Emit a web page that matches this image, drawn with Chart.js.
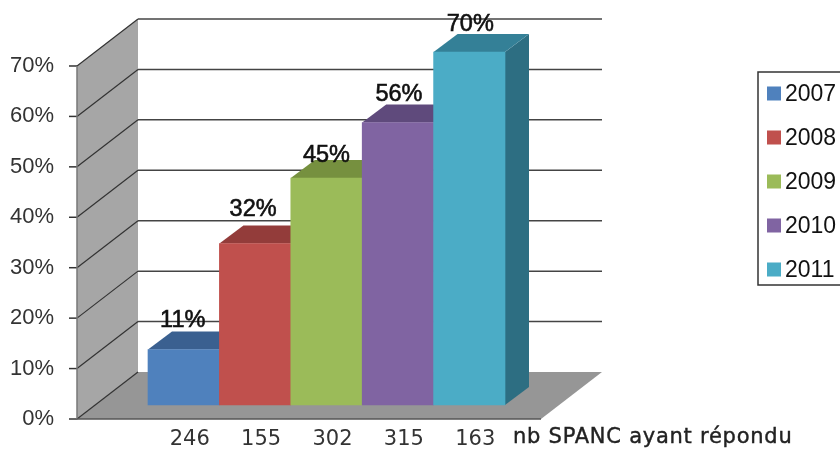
<!DOCTYPE html>
<html>
<head>
<meta charset="utf-8">
<title>SPANC</title>
<script src="https://cdn.jsdelivr.net/npm/chart.js@4/dist/chart.umd.min.js"></script>
<style>
  html, body { margin: 0; background: #fff; }
  canvas { display: block; }
</style>
</head>
<body>
<canvas id="mycanvas" width="840" height="450"></canvas>
<script>
var years = ['2007', '2008', '2009', '2010', '2011'];
var percents = [11, 32, 45, 56, 70];
var respondents = ['246', '155', '302', '315', '163'];
var percentTicks = [0, 10, 20, 30, 40, 50, 60, 70];
var axisTitle = 'nb SPANC ayant répondu';

var frontColors = ['#4f81bd', '#c0504d', '#9bbb59', '#8064a2', '#4bacc6'];
var topColors = ['#3a6090', '#933c3a', '#76903f', '#5f4a7c', '#348097'];
var sideColors = ['#325379', '#7d3331', '#647a36', '#513f69', '#2d6e82'];

// fake 3D: wall depth and bar depth in pixels
var wallDx = 61, wallDy = 47;
var barDx = 24, barDy = 18;
var unit = 5.043;

// value labels were placed by hand, not all at the same height
var labelLift = [29, 34, 23, 28, 27];
var labelShift = [-1, -2, 0, 1, 1];

function poly(ctx, pts, fill) {
    ctx.beginPath();
    ctx.moveTo(pts[0][0], pts[0][1]);
    for (var i = 1; i < pts.length; i++) ctx.lineTo(pts[i][0], pts[i][1]);
    ctx.closePath();
    ctx.fillStyle = fill;
    ctx.fill();
}

function seg(ctx, x1, y1, x2, y2, color, width) {
    ctx.beginPath();
    ctx.moveTo(x1, y1);
    ctx.lineTo(x2, y2);
    ctx.strokeStyle = color;
    ctx.lineWidth = width;
    ctx.stroke();
}

var box3d = {
    id: 'box3d',
    beforeDatasetsDraw: function(chart) {
        var ctx = chart.ctx;
        var y = chart.scales.yTicks;
        var bars = chart.getDatasetMeta(0).data;
        var frontX = 77, backX = frontX + wallDx;
        var rightX = 541;
        var floorY = y.getPixelForValue(0);
        var topY = y.getPixelForValue(70);

        ctx.save();
        poly(ctx, [[frontX, topY], [backX, topY - wallDy], [backX, floorY - wallDy], [frontX, floorY]], '#a6a6a6');
        poly(ctx, [[frontX, floorY], [backX, floorY - wallDy], [rightX + wallDx, floorY - wallDy], [rightX, floorY]], '#969696');

        percentTicks.forEach(function(v) {
            var py = y.getPixelForValue(v);
            seg(ctx, frontX - 8, py, frontX, py, '#333', 1.5);
            seg(ctx, frontX, py, backX, py - wallDy, '#333', 1.2);
            if (v > 0) seg(ctx, backX, py - wallDy, rightX + wallDx, py - wallDy, '#444', 1.5);
        });
        seg(ctx, frontX, topY, frontX, floorY, '#777', 1.5);
        seg(ctx, frontX, floorY, rightX, floorY, '#555', 1.5);

        // top and side faces, the front faces are the chart's own bars
        bars.forEach(function(bar, i) {
            var l = bar.x - bar.width / 2, r = bar.x + bar.width / 2;
            poly(ctx, [[r, bar.y], [r + barDx, bar.y - barDy], [r + barDx, bar.base - barDy], [r, bar.base]], sideColors[i]);
            poly(ctx, [[l, bar.y], [r, bar.y], [r + barDx, bar.y - barDy], [l + barDx, bar.y - barDy]], topColors[i]);
        });
        ctx.restore();
    },
    afterDatasetsDraw: function(chart) {
        var ctx = chart.ctx;
        var bars = chart.getDatasetMeta(0).data;
        ctx.save();

        // value labels above each bar
        ctx.font = '23.5px "Liberation Sans"';
        ctx.textAlign = 'center';
        ctx.textBaseline = 'middle';
        ctx.fillStyle = '#111';
        ctx.strokeStyle = '#111';
        ctx.lineWidth = 0.6;
        bars.forEach(function(bar, i) {
            var label = percents[i] + '%';
            var lx = bar.x + labelShift[i], ly = bar.y - labelLift[i];
            ctx.fillText(label, lx, ly);
            ctx.strokeText(label, lx, ly);
        });

        // text to the right of the counts
        ctx.font = '21px "DejaVu Sans"';
        ctx.letterSpacing = '0.75px';
        ctx.textAlign = 'left';
        ctx.fillStyle = '#222';
        ctx.strokeStyle = '#222';
        ctx.lineWidth = 0.4;
        ctx.fillText(axisTitle, 513, 438);
        ctx.strokeText(axisTitle, 513, 438);
        ctx.letterSpacing = '0px';

        // legend box runs off the right edge
        ctx.strokeStyle = '#333';
        ctx.lineWidth = 1.5;
        ctx.strokeRect(758, 72, 90, 213);
        ctx.font = '23px "Liberation Sans"';
        years.forEach(function(year, i) {
            var cy = 93.5 + i * 44;
            ctx.fillStyle = frontColors[i];
            ctx.fillRect(767, cy - 7, 14, 14);
            ctx.fillStyle = '#111';
            ctx.fillText(year, 785, cy + 1);
        });
        ctx.restore();
    }
};

var ctx = document.getElementById('mycanvas');

var barGraph = new Chart(ctx, {
    type: 'bar',
    data: {
        labels: respondents,
        datasets: [{
            data: percents,
            yAxisID: 'yBars',
            backgroundColor: frontColors,
            barPercentage: 1,
            categoryPercentage: 1,
            clip: false
        }]
    },
    options: {
        responsive: false,
        animation: false,
        layout: { padding: { top: 20, right: 335 } },
        plugins: {
            legend: { display: false },
            tooltip: { enabled: false }
        },
        scales: {
            x: {
                grid: { display: false, drawTicks: false },
                border: { display: false },
                afterFit: function(scale) {
                    scale.height = 31;
                    scale.paddingLeft = 0;
                    scale.paddingRight = 0;
                },
                ticks: {
                    maxRotation: 0,
                    padding: 8,
                    labelOffset: 6,
                    color: '#333',
                    font: { family: '"DejaVu Sans"', size: 21 }
                }
            },
            // tick labels sit on the front edge of the wall
            yTicks: {
                position: 'left',
                min: 0,
                max: 399 / unit,
                grid: { display: false, drawTicks: false },
                border: { display: false },
                afterBuildTicks: function(scale) {
                    scale.ticks = percentTicks.map(function(v) { return { value: v }; });
                },
                afterFit: function(scale) {
                    scale.width = 148;
                    scale.paddingTop = 0;
                    scale.paddingBottom = 0;
                },
                ticks: {
                    padding: 94,
                    color: '#333',
                    font: { family: '"Liberation Sans"', size: 22 },
                    callback: function(v) { return v + '%'; }
                }
            },
            // bars stand on the floor, a bit above the front edge
            yBars: {
                display: false,
                min: -14 / unit,
                max: 385 / unit
            }
        }
    },
    plugins: [box3d]
});
</script>
</body>
</html>
